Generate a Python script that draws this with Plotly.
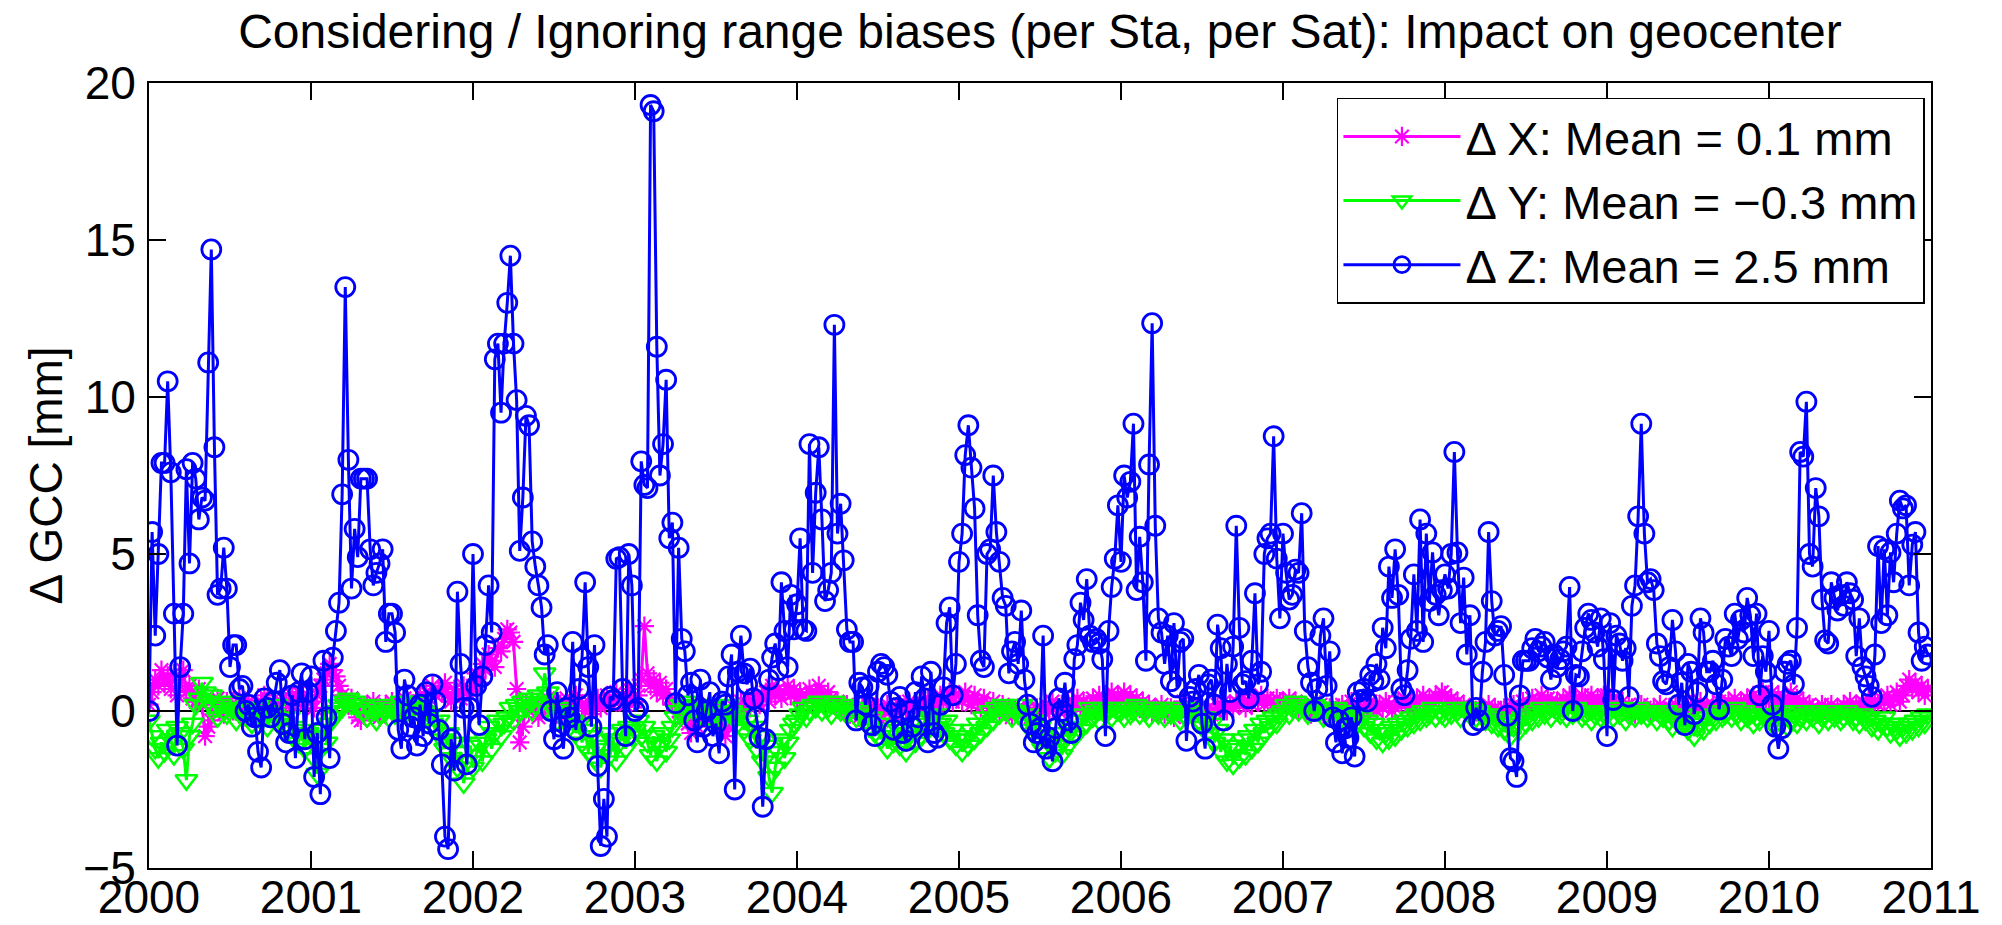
import plotly.graph_objects as go

YEARS = list(range(2000, 2011))
XTICKS = list(range(2000, 2012))

# ---- Delta Z (blue circles), one list per year ----
Z_2000 = [0.0, 5.7, 2.4, 5.0, 7.9, 7.9, 10.5, 7.6, 3.1, -1.1, 1.4, 3.1, 7.7, 4.7, 7.9, 7.4, 6.1, 6.8, 6.7, 11.1,
          14.7, 8.4, 3.7, 3.9, 5.2, 3.9, 1.4, 2.1, 2.1, 0.7, 0.8, 0.0, 0.2, -0.5, -0.2, -1.3, -1.8, 0.4, 0.1, -0.2,
          0.3, 0.9, 1.3, -0.4, -1.0, -0.7, 0.5, -1.5, 0.6, 1.2, -0.9, 0.6]
Z_2001 = [1.1, -2.1, -0.7, -2.65, 1.6, -0.2, -1.5, 1.7, 2.55, 3.45, 6.9, 13.5, 8.0, 3.9, 5.8, 4.9, 7.4, 7.4, 7.4, 5.15,
          4.0, 4.4, 4.7, 5.15, 2.2, 3.1, 3.1, 2.5, -0.6, -1.2, 1.0, 0.5, -0.5, -0.2, -1.1, 0.2, -0.8, 0.6, -0.4, 0.85,
          0.3, -0.6, -1.7, -4.0, -4.4, -0.9, -1.9, 3.8, 1.5, 0.1, -1.7, 0.1]
Z_2002 = [5.0, 0.8, -0.45, 1.1, 2.1, 4.0, 2.5, 11.2, 11.7, 9.5, 11.7, 13.0, 14.5, 11.7, 9.9, 5.1, 6.8, 9.4, 9.1, 5.4,
          4.6, 4.0, 3.3, 1.8, 2.1, 0.0, -0.9, 0.6, -0.5, -1.2, 0.1, -0.2, 2.2, -0.6, 0.7, 1.7, 4.1, 1.4, -0.5, 2.1,
          -1.75, -4.3, -2.8, -4.0, 0.45, 0.35, 4.85, 4.9, 0.7, -0.8, 5.0, 4.0]
Z_2003 = [0.0, 0.1, 7.95, 7.2, 7.1, 19.3, 19.1, 11.6, 7.5, 8.5, 10.55, 5.5, 6.0, 0.25, 5.2, 2.3, 1.9, 0.5, 0.9, -0.3,
          -1.0, 1.0, -0.5, 0.0, 0.6, -0.8, -0.4, -1.35, 0.3, 0.2, 1.1, 1.8, -2.5, 1.25, 2.4, 1.2, 0.85, 1.35, 0.4, -0.2,
          -0.85, -3.05, -0.9, 1.0, 1.7, 2.15, 1.3, 4.1, 2.55, 1.4, 3.7, 2.6]
Z_2004 = [3.4, 5.5, 2.6, 2.55, 8.5, 4.4, 6.95, 8.4, 6.1, 3.5, 3.85, 4.4, 12.3, 5.65, 6.6, 4.8, 2.6, 2.2, 2.2, -0.3,
          0.9, 0.75, 0.2, 0.8, -0.45, -0.8, 1.25, 1.5, 1.4, 1.15, 0.3, -0.6, 0.1, 0.45, -0.7, -0.95, 0.0, -0.5, 0.6, -0.2,
          1.1, 0.4, -1.0, 1.25, -0.7, -0.85, 0.2, 0.75, 2.8, 3.3, 0.5, 1.5]
Z_2005 = [4.75, 5.65, 8.15, 9.1, 7.75, 6.45, 3.05, 1.6, 1.4, 5.0, 5.15, 7.5, 5.7, 4.75, 3.6, 3.35, 1.2, 1.9, 2.2, 1.5,
          3.2, 1.0, 0.2, -0.4, -1.0, -0.7, -0.55, 2.4, -1.2, -0.85, -1.6, -0.55, 0.4, 0.0, 0.9, -0.3, -0.7, 1.65, 2.1, 3.45,
          2.9, 4.2, 2.4, 2.2, 2.3, 2.15, 1.65, -0.8, 2.55, 3.95, 4.85, 6.55]
Z_2006 = [4.75, 7.5, 6.8, 7.3, 9.15, 3.85, 5.55, 4.1, 1.6, 7.85, 12.35, 5.9, 2.95, 2.5, 1.5, 2.4, 0.95, 2.8, 0.75, 2.2,
          2.3, -0.95, 0.45, 0.3, 0.7, 1.15, -0.4, -1.2, 0.85, 1.0, 0.2, 2.75, 2.0, -0.3, 1.5, 0.6, 2.05, 5.9, 2.65, 0.85,
          0.95, 0.4, 1.6, 3.75, 0.85, 1.25, 5.0, 5.5, 5.65, 8.75, 4.85, 2.95]
Z_2007 = [5.65, 4.4, 3.55, 3.7, 4.5, 4.4, 6.3, 2.55, 1.4, 0.9, 0.0, 0.7, 2.4, 2.95, 0.8, 1.9, -0.2, -1.0, -0.3, -1.35,
          -0.55, -0.85, -0.2, -1.45, 0.6, 0.35, 0.7, 0.3, 1.15, 0.95, 1.5, 1.0, 2.65, 2.0, 4.6, 3.6, 5.15, 3.7, 0.7, 0.5,
          1.3, 2.3, 4.35, 2.55, 6.1, 2.2, 5.65, 3.5, 5.05, 3.7, 3.05, 3.85]
Z_2008 = [4.35, 3.9, 5.0, 8.25, 5.05, 2.8, 4.25, 1.8, 3.05, -0.45, 0.1, -0.3, 1.25, 2.2, 5.7, 3.5, 2.4, 2.55, 2.7, 1.15,
          -0.15, -1.5, -1.6, -2.1, 0.5, 1.6, 1.6, 1.6, 2.0, 2.3, 1.9, 2.05, 2.2, 1.7, 1.0, 1.8, 1.4, 1.65, 1.9, 2.05,
          3.95, 0.0, 1.15, 1.1, 1.9, 2.65, 3.1, 2.9, 2.5, 2.05, 2.95, 1.65]
Z_2009 = [-0.8, 2.8, 0.35, 2.4, 2.15, 1.6, 2.0, 0.45, 3.35, 4.0, 6.2, 9.15, 5.65, 4.1, 4.2, 3.85, 2.15, 1.75, 0.95, 0.85,
          1.4, 2.9, 1.9, 0.2, 0.9, -0.45, 1.5, 1.25, -0.1, 0.6, 2.95, 2.5, 1.25, 1.25, 1.6, 0.85, 0.05, 1.0, 2.3, 2.05,
          1.75, 3.1, 2.3, 2.9, 2.5, 3.6, 3.05, 1.75, 3.1, 0.5, 1.75, 1.25]
Z_2010 = [2.55, 0.2, -0.5, -1.2, -0.55, 1.25, 1.5, 1.6, 0.85, 2.65, 8.25, 8.1, 9.85, 5.0, 4.6, 7.1, 6.2, 3.55, 2.25, 2.15,
          4.1, 3.6, 3.2, 3.7, 3.35, 4.1, 3.75, 3.55, 1.75, 2.95, 1.4, 1.1, 0.8, 0.45, 1.8, 5.25, 2.8, 5.15, 3.05, 5.05,
          4.1, 5.65, 6.7, 6.45, 6.55, 4.0, 5.3, 5.7, 2.5, 1.6, 2.05, 1.8]

# ---- Delta X (magenta asterisks) ----
X_2000 = [0.2, 0.6, 1.0, 0.8, 1.3, 0.9, 1.1, 0.7, 1.2, 0.5, 0.9, 1.3, 0.6, 0.8, 0.4, 0.3, 0.7, 0.2, -0.8, -0.5,
          -0.3, 0.1, 0.4, 0.2, -0.1, 0.3, 0.1, 0.0, 0.2, 0.4, 0.1, -0.2, 0.3, 0.2, 0.0, 0.1, 0.3, 0.5, 0.2, 0.0,
          -0.1, 0.2, 0.1, 0.4, 0.3, 0.2, 0.5, 0.3, 0.6, 0.4, 0.2, 0.5]
X_2001 = [0.3, 0.1, 0.5, 0.8, 1.0, 1.2, 1.5, 1.3, 1.1, 0.8, 0.5, 0.3, 0.2, 0.4, 0.1, -0.2, -0.3, -0.1, 0.2, 0.0,
          0.3, 0.1, -0.2, 0.0, 0.2, 0.1, 0.3, 0.0, -0.1, 0.2, 0.4, 0.3, 0.1, 0.0, 0.2, 0.5, 0.3, 0.6, 0.4, 0.8,
          0.5, 0.7, 0.6, 0.9, 0.5, 0.3, 0.7, 0.6, 0.4, 0.8, 0.6, 0.5]
X_2002 = [0.8, 1.2, 0.9, 1.5, 1.3, 1.8, 1.6, 1.4, 2.0, 1.9, 2.3, 2.6, 2.5, 2.2, 0.7, -1.0, -0.5, 0.2, 0.0, 0.3,
          0.1, -0.2, 0.0, 0.2, 0.4, 0.1, 0.3, -0.1, 0.2, 0.0, 0.4, 0.2, 0.1, 0.5, 0.3, 0.2, 0.0, 0.3, -0.1, 0.2,
          0.4, 0.1, 0.3, 0.5, 0.2, 0.4, 0.6, 0.3, 0.5, 0.2, 0.7, 0.4]
X_2003 = [0.3, 0.5, 1.0, 2.7, 1.2, 0.8, 1.0, 0.6, 0.9, 0.5, 0.7, 0.4, 0.2, 0.3, 0.0, -0.2, 0.1, -0.4, -0.7, -0.3,
          -0.5, -0.1, 0.0, -0.3, 0.2, -0.2, 0.1, 0.0, -0.4, -0.8, -0.5, -0.2, 0.1, 0.0, 0.3, 0.2, 0.4, 0.1, 0.3, 0.5,
          0.2, 0.4, 0.6, 0.3, 0.8, 0.5, 0.7, 0.4, 0.6, 0.8, 0.5, 0.7]
X_2004 = [0.4, 0.6, 0.3, 0.5, 0.7, 0.4, 0.6, 0.8, 0.5, 0.3, 0.6, 0.4, 0.2, 0.3, 0.1, 0.0, 0.2, -0.1, 0.1, 0.0,
          -0.2, 0.1, 0.0, 0.2, -0.1, 0.0, 0.1, -0.3, 0.0, 0.2, 0.1, -0.1, 0.0, 0.2, 0.1, 0.0, 0.3, 0.1, 0.2, 0.0,
          0.3, 0.2, 0.4, 0.1, 0.3, 0.2, 0.5, 0.3, 0.4, 0.6, 0.3, 0.5]
X_2005 = [0.5, 0.3, 0.6, 0.4, 0.2, 0.5, 0.3, 0.1, 0.4, 0.2, 0.0, 0.3, 0.1, -0.1, 0.2, 0.0, 0.1, -0.2, 0.0, 0.1,
          -0.1, 0.0, 0.2, -0.2, 0.0, 0.1, -0.1, 0.0, 0.2, 0.0, 0.3, 0.1, 0.0, 0.2, 0.1, 0.3, 0.0, 0.2, 0.4, 0.1,
          0.3, 0.2, 0.0, 0.4, 0.2, 0.5, 0.3, 0.1, 0.4, 0.6, 0.3, 0.5]
X_2006 = [0.4, 0.6, 0.3, 0.5, 0.2, 0.4, 0.1, 0.3, 0.0, 0.2, -0.1, 0.1, 0.0, 0.2, -0.1, 0.0, 0.1, -0.2, 0.0, 0.1,
          0.3, 0.0, 0.2, -0.1, 0.1, 0.0, 0.2, 0.0, 0.1, -0.1, 0.0, 0.2, 0.1, 0.3, 0.0, 0.2, 0.1, 0.3, 0.2, 0.4,
          0.1, 0.3, 0.2, 0.4, 0.3, 0.5, 0.2, 0.4, 0.3, 0.2, 0.4, 0.3]
X_2007 = [0.3, 0.2, 0.4, 0.1, 0.3, 0.0, 0.2, 0.1, 0.0, -0.1, 0.1, 0.0, 0.2, -0.1, 0.0, 0.1, -0.2, 0.0, 0.1, 0.2,
          0.0, 0.1, 0.3, 0.0, 0.2, 0.1, 0.0, 0.2, 0.3, 0.1, 0.0, 0.2, 0.1, 0.3, 0.2, 0.0, 0.1, 0.3, 0.2, 0.4,
          0.1, 0.3, 0.2, 0.4, 0.3, 0.5, 0.2, 0.4, 0.3, 0.5, 0.4, 0.6]
X_2008 = [0.5, 0.3, 0.4, 0.2, 0.3, 0.1, 0.2, 0.0, 0.1, -0.1, 0.0, 0.1, -0.1, 0.0, 0.2, 0.0, 0.1, -0.1, 0.0, 0.1,
          -0.1, 0.0, 0.2, 0.0, 0.1, 0.3, 0.1, 0.2, 0.4, 0.2, 0.3, 0.5, 0.2, 0.4, 0.3, 0.1, 0.3, 0.2, 0.4, 0.3,
          0.5, 0.2, 0.4, 0.3, 0.5, 0.4, 0.3, 0.5, 0.2, 0.4, 0.3, 0.5]
X_2009 = [0.5, 0.3, 0.4, 0.2, 0.1, 0.3, 0.0, 0.2, 0.1, -0.1, 0.0, 0.2, 0.1, 0.0, -0.1, 0.1, 0.0, 0.2, -0.1, 0.0,
          0.1, 0.0, 0.2, 0.1, -0.1, 0.0, 0.1, 0.2, 0.0, 0.1, 0.3, 0.1, 0.2, 0.0, 0.2, 0.1, 0.3, 0.2, 0.1, 0.3,
          0.2, 0.4, 0.1, 0.3, 0.2, 0.4, 0.3, 0.5, 0.2, 0.4, 0.6, 0.3]
X_2010 = [0.4, 0.6, 0.3, 0.5, 0.2, 0.4, 0.3, 0.6, 0.2, 0.4, 0.1, 0.3, 0.0, 0.2, 0.1, -0.1, 0.0, 0.2, 0.1, 0.0,
          0.2, -0.1, 0.1, 0.0, 0.2, 0.1, 0.3, 0.0, 0.2, 0.1, 0.3, 0.2, 0.4, 0.1, 0.3, 0.2, 0.4, 0.3, 0.5, 0.2,
          0.4, 0.6, 0.3, 0.5, 0.8, 1.0, 0.7, 0.9, 0.6, 0.8, 0.5, 0.7]

# ---- Delta Y (green triangles) ----
Y_2000 = [-0.3, -0.8, -1.2, -1.5, -1.0, -1.3, -0.6, -0.9, -1.4, -0.5, -0.7, -1.2, -2.2, -0.8, -0.4, 0.2, 0.4, 0.9, 0.6, 0.3,
          0.5, 0.1, -0.2, 0.2, 0.0, -0.1, 0.3, 0.1, -0.3, 0.0, -0.2, 0.1, 0.0, -0.4, -0.2, 0.1, -0.3, 0.0, -0.5, -0.2,
          -0.1, 0.2, -0.3, -0.6, -0.4, -0.2, -0.8, -0.5, -1.0, -0.6, -1.2, -0.7]
Y_2001 = [-0.8, -1.5, -2.0, -1.2, -0.6, -1.0, -0.4, -0.2, 0.0, 0.2, 0.1, 0.3, 0.4, 0.2, 0.3, 0.1, 0.2, 0.0, -0.2, 0.1,
          0.0, -0.3, -0.1, 0.2, 0.0, -0.2, 0.1, -0.1, 0.0, 0.3, 0.1, 0.0, 0.2, 0.1, 0.3, 0.2, 0.0, -0.2, -0.1, -0.4,
          -0.6, -0.3, -0.9, -1.2, -0.7, -1.5, -1.0, -1.8, -1.3, -2.3, -1.6, -1.1]
Y_2002 = [-1.8, -1.4, -1.0, -1.6, -0.9, -0.5, -1.2, -0.7, -0.3, -0.8, -0.4, -0.2, 0.1, -0.3, 0.2, 0.0, 0.3, 0.1, 0.4, 0.0,
          0.2, 0.5, 0.3, 1.2, 0.6, 0.2, 0.0, -0.3, 0.1, -0.2, 0.0, -0.5, -0.3, -0.7, -0.4, -1.0, -0.6, -1.3, -0.8, -1.5,
          -1.1, -1.8, -1.2, -0.7, -1.4, -0.9, -1.6, -1.0, -0.6, -1.2, -0.5, -0.8]
Y_2003 = [-0.6, -0.3, -0.8, -0.5, -1.0, -1.4, -0.8, -1.6, -1.1, -0.7, -1.3, -0.9, -0.5, -0.2, 0.0, 0.2, -0.1, 0.1, 0.3, 0.0,
          0.2, -0.1, 0.1, 0.0, -0.2, 0.1, -0.1, 0.0, -0.3, -0.1, 0.2, 0.0, -0.2, -0.4, -0.1, -0.6, -0.3, -0.9, -0.5, -1.2,
          -0.8, -1.6, -1.1, -2.1, -2.6, -1.8, -1.3, -0.9, -1.5, -1.0, -0.6, -0.4]
Y_2004 = [-0.3, -0.1, 0.1, -0.2, 0.0, 0.2, 0.1, 0.3, 0.0, 0.2, 0.1, -0.1, 0.3, 0.1, 0.0, 0.2, -0.1, 0.0, 0.1, -0.2,
          0.0, -0.1, -0.3, -0.5, -0.2, -0.7, -0.4, -0.9, -0.6, -1.2, -0.8, -1.0, -0.5, -1.1, -0.7, -1.3, -0.8, -0.6, -1.0, -0.4,
          -0.8, -0.3, -0.6, -0.2, -0.5, -0.1, -0.4, -0.7, -0.3, -0.9, -0.6, -1.1]
Y_2005 = [-0.8, -1.3, -0.9, -1.1, -0.6, -0.9, -0.4, -0.7, -0.2, -0.5, 0.0, -0.3, 0.1, -0.1, 0.2, 0.0, 0.1, -0.2, 0.0, -0.1,
          0.2, -0.3, -0.1, -0.6, -0.3, -0.9, -0.5, -1.2, -0.8, -1.5, -1.0, -1.3, -0.7, -1.4, -0.9, -1.1, -0.5, -0.8, -0.3, -0.6,
          -0.1, -0.4, 0.1, -0.2, 0.0, -0.3, 0.1, -0.1, 0.0, -0.2, 0.1, 0.0]
Y_2006 = [0.0, -0.2, 0.1, -0.1, 0.0, 0.2, -0.1, 0.1, 0.0, -0.2, 0.1, 0.0, -0.1, 0.1, -0.2, 0.0, -0.1, 0.1, 0.0, -0.3,
          -0.1, -0.2, 0.0, -0.1, 0.1, -0.3, -0.5, -0.2, -0.7, -0.4, -1.0, -0.6, -1.3, -0.9, -1.6, -1.1, -1.7, -1.2, -1.5, -0.9,
          -1.4, -0.8, -1.2, -0.6, -1.0, -0.4, -0.7, -0.3, -0.5, -0.2, -0.4, -0.1]
Y_2007 = [0.0, 0.2, -0.1, 0.1, 0.3, 0.0, 0.2, 0.1, -0.1, 0.0, 0.2, 0.1, 0.0, -0.2, 0.1, 0.0, -0.1, 0.1, 0.0, -0.2,
          0.0, -0.1, -0.3, -0.1, -0.4, -0.2, -0.5, -0.3, -0.7, -0.4, -0.9, -0.6, -1.0, -0.7, -0.9, -0.5, -0.8, -0.4, -0.6, -0.3,
          -0.5, -0.2, -0.4, -0.1, -0.3, 0.0, -0.2, -0.1, 0.1, -0.2, 0.0, -0.1]
Y_2008 = [-0.2, 0.0, -0.1, 0.1, 0.0, -0.2, 0.1, 0.0, -0.1, 0.1, -0.2, 0.0, -0.1, -0.3, -0.1, -0.4, -0.2, -0.5, -0.3, -0.6,
          -0.4, -0.8, -0.5, -0.3, -0.6, -0.2, -0.4, -0.1, -0.3, 0.0, -0.2, 0.1, -0.1, 0.0, -0.2, 0.1, 0.0, -0.1, 0.1, -0.2,
          0.0, -0.1, 0.1, 0.0, -0.2, -0.1, 0.0, -0.3, -0.1, 0.0, -0.2, -0.1]
Y_2009 = [-0.1, 0.0, -0.2, 0.1, -0.1, 0.0, -0.3, -0.1, 0.0, -0.2, 0.1, -0.1, 0.0, -0.2, -0.1, 0.0, -0.3, -0.1, -0.2, 0.0,
          -0.3, -0.5, -0.2, -0.4, -0.1, -0.3, -0.6, -0.4, -0.8, -0.5, -0.3, -0.6, -0.2, -0.4, -0.1, -0.3, 0.0, -0.2, -0.1, 0.0,
          -0.2, 0.1, -0.1, -0.3, 0.0, -0.2, -0.1, -0.4, -0.2, -0.3, -0.1, -0.2]
Y_2010 = [-0.2, -0.4, -0.1, -0.3, 0.0, -0.2, -0.5, -0.3, -0.1, -0.4, -0.2, 0.0, -0.3, -0.1, -0.2, 0.0, -0.4, -0.2, -0.1, -0.3,
          0.0, -0.2, -0.1, -0.3, -0.2, 0.0, -0.1, -0.3, -0.2, -0.4, -0.1, -0.3, -0.2, -0.5, -0.3, -0.6, -0.4, -0.2, -0.5, -0.7,
          -0.4, -0.6, -0.8, -0.5, -0.7, -0.4, -0.6, -0.3, -0.5, -0.2, -0.4, -0.1]

Z_YEARS = [Z_2000, Z_2001, Z_2002, Z_2003, Z_2004, Z_2005, Z_2006, Z_2007, Z_2008, Z_2009, Z_2010]
X_YEARS = [X_2000, X_2001, X_2002, X_2003, X_2004, X_2005, X_2006, X_2007, X_2008, X_2009, X_2010]
Y_YEARS = [Y_2000, Y_2001, Y_2002, Y_2003, Y_2004, Y_2005, Y_2006, Y_2007, Y_2008, Y_2009, Y_2010]

LEGEND_X = "\u0394 X: Mean = 0.1 mm"
LEGEND_Y = "\u0394 Y: Mean = \u22120.3 mm"
LEGEND_Z = "\u0394 Z: Mean = 2.5 mm"
TITLE = "Considering / Ignoring range biases (per Sta, per Sat): Impact on geocenter"
YLABEL = "\u0394 GCC [mm]"


def spread(per_year):
    xs, ys = [], []
    for yr, vals in zip(YEARS, per_year):
        n = len(vals)
        for k, v in enumerate(vals):
            xs.append(yr + k / n)
            ys.append(v)
    return xs, ys


tx, vx = spread(X_YEARS)
ty, vy = spread(Y_YEARS)
tz, vz = spread(Z_YEARS)

FONT = "Liberation Sans, Arial, Helvetica, sans-serif"

fig = go.Figure()
fig.add_trace(go.Scatter(
    x=tx, y=vx, mode="lines+markers", name=LEGEND_X,
    line=dict(color="#FF00FF", width=3),
    marker=dict(symbol="asterisk-open", size=16, line=dict(color="#FF00FF", width=2.2)),
))
fig.add_trace(go.Scatter(
    x=ty, y=vy, mode="lines+markers", name=LEGEND_Y,
    line=dict(color="#00FF00", width=3),
    marker=dict(symbol="triangle-down-open", size=19, line=dict(color="#00FF00", width=2.5)),
))
fig.add_trace(go.Scatter(
    x=tz, y=vz, mode="lines+markers", name=LEGEND_Z,
    line=dict(color="#0000FF", width=3),
    marker=dict(symbol="circle-open", size=19, line=dict(color="#0000FF", width=2.8)),
))

fig.update_layout(
    width=2002, height=925,
    margin=dict(l=149, r=71, t=83, b=57),
    paper_bgcolor="white", plot_bgcolor="white",
    font=dict(family=FONT, size=46, color="black"),
    title=dict(text=TITLE, x=0.5, xref="paper", xanchor="center",
               y=1 - 31 / 925, yref="container", yanchor="middle",
               font=dict(family=FONT, size=48, color="black")),
    showlegend=True,
    legend=dict(x=0.9966, y=0.981, xanchor="right", yanchor="top",
                bgcolor="white", bordercolor="black", borderwidth=1.5,
                font=dict(family=FONT, size=47, color="black"),
                itemwidth=117, tracegroupgap=0),
)
fig.update_xaxes(
    range=[2000, 2011], tickvals=XTICKS, ticktext=[str(t) for t in XTICKS],
    ticks="inside", ticklen=17, tickwidth=1.5, tickcolor="black",
    showline=True, linewidth=2, linecolor="black", mirror="ticks",
    showgrid=False, zeroline=False, automargin=False,
    ticklabelstandoff=-12,
    tickfont=dict(family=FONT, size=46, color="black"),
)
fig.update_yaxes(
    range=[-5, 20], tickvals=[-5, 0, 5, 10, 15, 20],
    ticks="inside", ticklen=17, tickwidth=1.5, tickcolor="black",
    showline=True, linewidth=2, linecolor="black", mirror="ticks",
    showgrid=False, zeroline=True, zerolinecolor="black", zerolinewidth=2,
    automargin=False, ticklabelstandoff=2,
    tickfont=dict(family=FONT, size=46, color="black"),
    title=dict(text=YLABEL, font=dict(family=FONT, size=46, color="black"), standoff=6),
)

fig.write_html("out.html")
